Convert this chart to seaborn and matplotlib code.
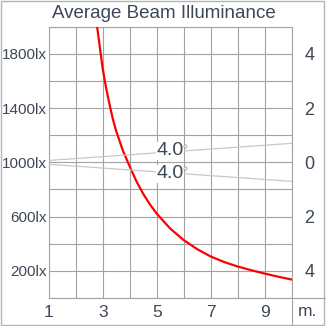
import numpy as np
import pandas as pd
import matplotlib
matplotlib.use("Agg")
import matplotlib.pyplot as plt
from matplotlib.lines import Line2D
from matplotlib.patches import Rectangle
import seaborn as sns

# distance (m) vs average beam illuminance (lx)
distance = [2.7, 2.8, 2.9, 3.0, 3.125, 3.25, 3.375, 3.5, 3.75, 4.0, 4.25, 4.5, 4.75,
            5.0, 5.5, 6.0, 6.5, 7.0, 7.5, 8.0, 8.5, 9.0, 9.5, 10.0]
illuminance = [2150, 1990, 1840, 1690, 1550, 1430, 1320, 1230, 1085, 970, 860, 768, 690,
               622, 512, 427, 360, 306, 265, 232, 205, 180, 157, 136]

# beam spread lines (metres from axis), 4.0 degree beam
beam_distance = [0, 10]
beam_half_width = [0, 0.70]
beam_label = "4.0"

y_ticks = list(range(0, 2001, 200))
y_labels = ["", "200lx", "", "600lx", "", "1000lx", "", "1400lx", "", "1800lx", ""]
x_ticks = list(range(1, 11))
x_labels = ["1", "", "3", "", "5", "", "7", "", "9", ""]
r_ticks = [-4, -2, 0, 2, 4]
r_labels = ["4", "2", "0", "2", "4"]

TEXT = "#3d4757"
GRID = "#a3a3a3"

sns.set_style("white")
plt.rcParams["font.family"] = ["Liberation Sans", "DejaVu Sans"]

W = 326
fig = plt.figure(figsize=(3.26, 3.26), dpi=100)
ax = fig.add_axes([48.7 / W, (W - 298) / W, (291.7 - 48.7) / W, (298 - 26.7) / W])

df = pd.DataFrame({"d": distance, "lx": illuminance})
sns.lineplot(data=df, x="d", y="lx", ax=ax, color="#ff0000", linewidth=1.6,
             sort=False, estimator=None, zorder=5)

ax.set_xlim(1, 10)
ax.set_ylim(0, 2000)
ax.set_xticks(x_ticks)
ax.set_xticklabels(x_labels, fontsize=12.5, color=TEXT)
ax.set_yticks(y_ticks)
ax.set_yticklabels(y_labels, fontsize=11, color=TEXT)
ax.tick_params(axis="both", length=0)
ax.tick_params(axis="y", pad=1.5)
ax.tick_params(axis="x", pad=5)
ax.grid(True, color=GRID, linewidth=0.8)
ax.set_xlabel("")
ax.set_ylabel("")
for s in ax.spines.values():
    s.set_color(GRID)
    s.set_linewidth(0.8)

# right axis in metres
ax2 = ax.twinx()
ax2.set_ylim(-5, 5)
ax2.set_yticks(r_ticks)
ax2.set_yticklabels(r_labels, fontsize=13, color=TEXT)
ax2.tick_params(axis="y", length=0, pad=9)
for s in ax2.spines.values():
    s.set_visible(False)

bd = np.array(beam_distance)
bh = np.array(beam_half_width)
ax2.plot(bd, bh, color="#c8c8c8", linewidth=0.9, zorder=2)
ax2.plot(bd, -bh, color="#c8c8c8", linewidth=0.9, zorder=2)
ax2.set_xlim(1, 10)
for yy in [0.42, -0.42]:
    ax2.text(5.5, yy, beam_label, fontsize=14, color=TEXT, ha="center", va="center",
             bbox=dict(facecolor="white", edgecolor="none", pad=0.3), zorder=4)
    ax2.plot([6.05], [yy + 0.2], marker="o", markersize=2.2, markerfacecolor="white",
             markeredgecolor="#a0a0a0", markeredgewidth=0.6, zorder=4)

fig.suptitle("Average Beam Illuminance", x=163.5 / W, y=1 - 14 / W, fontsize=13.5,
             color=TEXT, va="center")
fig.text(307.5 / W, 1 - 311.5 / W, "m.", fontsize=12.5, color=TEXT, ha="center", va="center")

# outer frame and the extended axis lines
fig.add_artist(Rectangle((0.5 / W, 1.5 / W), 323.5 / W, 323.5 / W, transform=fig.transFigure,
                         fill=False, edgecolor="#b5b5b5", linewidth=1))
fig.add_artist(Line2D([291.7 / W, 324.5 / W], [(W - 298) / W, (W - 298) / W],
                      transform=fig.transFigure, color=GRID, linewidth=0.8))
fig.add_artist(Line2D([291.7 / W, 291.7 / W], [(W - 298) / W, 1.5 / W],
                      transform=fig.transFigure, color=GRID, linewidth=0.8))

fig.savefig("out.png", dpi=100, facecolor="white")
